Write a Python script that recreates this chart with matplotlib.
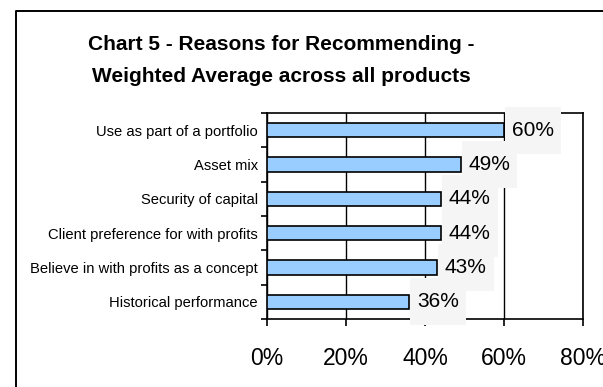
import matplotlib
matplotlib.use("Agg")
import matplotlib.pyplot as plt
from matplotlib.path import Path
from matplotlib.lines import Line2D
import numpy as np

plt.rcParams['font.family'] = ['Liberation Sans', 'DejaVu Sans']

categories = ["Use as part of a portfolio", "Asset mix", "Security of capital",
              "Client preference for with profits", "Believe in with profits as a concept",
              "Historical performance"]
values = [60, 49, 44, 44, 43, 36]
value_labels = ["60%", "49%", "44%", "44%", "43%", "36%"]
xticks = [0, 20, 40, 60, 80]
xtick_labels = ["0%", "20%", "40%", "60%", "80%"]
title_lines = ["Chart 5 - Reasons for Recommending -", "Weighted Average across all products"]

W, H = 603, 387
fig = plt.figure(figsize=(W / 100, H / 100), dpi=100)
fig.patch.set_facecolor("white")

ax = fig.add_axes([267 / W, 1 - 319 / H, (583 - 267) / W, (319 - 113) / H])

y = np.arange(len(categories))
ax.barh(y, values, height=0.42, color="#99ccff", edgecolor="black", linewidth=1.2, zorder=3)
ax.set_ylim(len(categories) - 0.5, -0.5)
ax.set_xlim(0, 80)

ax.set_xticks(xticks)
ax.set_xticklabels(xtick_labels, fontsize=16.5)
ax.tick_params(axis="x", direction="out", length=5, width=1.2, pad=15)
ax.set_yticks(y)
ax.set_yticklabels(categories, fontsize=10.6)
ax.tick_params(axis="y", length=0, pad=6.5)
ax.set_yticks(np.arange(len(categories) + 1) - 0.5, minor=True)
ax.tick_params(axis="y", which="minor", direction="out", length=4, width=1.2)

ax.grid(axis="x", color="black", linewidth=1.0, zorder=1)
for s in ax.spines.values():
    s.set_linewidth(1.2)
    s.set_zorder(2)


def asym_box(x0, y0, width, height, mutation_size, padx=7, pady=14):
    return Path([(x0 - padx, y0 - pady), (x0 + width + padx, y0 - pady),
                 (x0 + width + padx, y0 + height + pady), (x0 - padx, y0 + height + pady),
                 (x0 - padx, y0 - pady)], closed=True)


for yi, v, lab in zip(y, values, value_labels):
    ax.annotate(lab, (v, yi), xytext=(8, 0), textcoords="offset pixels",
                ha="left", va="center", fontsize=15, zorder=5,
                bbox=dict(boxstyle=asym_box, fc="#f5f5f5", ec="none"),
                annotation_clip=False)

fig.text(281 / W, 1 - 45 / H, title_lines[0], ha="center", va="center",
         fontsize=15, fontweight="bold")
fig.text(281 / W, 1 - 77 / H, title_lines[1], ha="center", va="center",
         fontsize=15, fontweight="bold")

fig.add_artist(Line2D([16 / W, 16 / W, 1.0], [0.0, 1 - 10.5 / H, 1 - 10.5 / H],
                      transform=fig.transFigure, color="black", linewidth=1.4))

fig.savefig("out.png", dpi=100)
